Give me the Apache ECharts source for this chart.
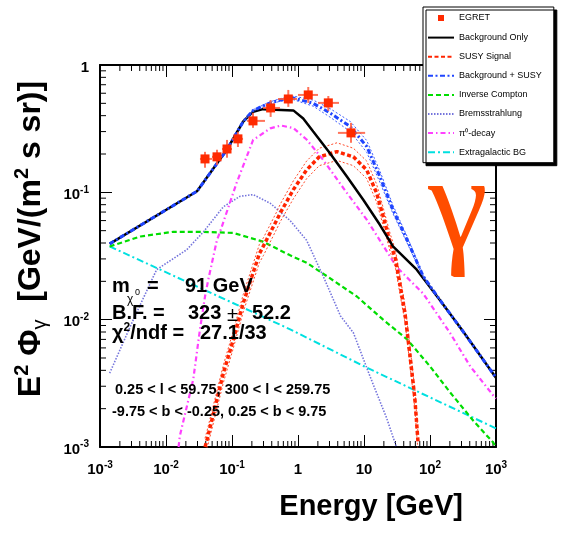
<!DOCTYPE html>
<html><head><meta charset="utf-8">
<script src="https://cdn.jsdelivr.net/npm/echarts/dist/echarts.min.js"></script>
<style>html,body{margin:0;padding:0;background:#fff}#c{width:563px;height:533px}</style>
</head><body><div id="c"></div>
<script>
// ---- tick labels ----
const xTickExps = [-3, -2, -1, 0, 1, 2, 3];
const yTickExps = [-3, -2, -1, 0];

// ---- EGRET data ----
const egretE   = [0.039, 0.0593, 0.084, 0.123, 0.208, 0.385, 0.713, 1.43, 2.88, 6.35];
const egretElo = [0.0327, 0.0498, 0.0705, 0.100, 0.169, 0.295, 0.498, 1.00, 2.01, 4.03];
const egretEhi = [0.0498, 0.0705, 0.100, 0.147, 0.316, 0.533, 0.966, 2.01, 4.18, 10.4];
const egretF   = [0.183, 0.190, 0.219, 0.263, 0.364, 0.460, 0.541, 0.582, 0.504, 0.293];
const egretFlo = [0.156, 0.164, 0.187, 0.227, 0.321, 0.391, 0.469, 0.504, 0.436, 0.245];
const egretFhi = [0.208, 0.216, 0.258, 0.299, 0.421, 0.531, 0.637, 0.672, 0.571, 0.351];

// ---- Background only ----
const bgE = [0.0014, 0.0295, 0.083, 0.148, 0.209, 0.295, 0.85, 1.2, 1.7, 3.05, 5.5, 9.8, 17.4, 27.5, 63, 141, 316, 1000];
const bgF = [0.0394, 0.102, 0.215, 0.36, 0.43, 0.45, 0.44, 0.38, 0.30, 0.203, 0.133, 0.087, 0.0556, 0.0376, 0.0247, 0.0143, 0.0081, 0.0035];

// ---- Background + SUSY ----
const bsE = [0.0014, 0.0295, 0.083, 0.148, 0.209, 0.363, 0.54, 0.85, 1.7, 3.05, 6.2, 11, 17.4, 27.5, 45, 79, 141, 316, 1000];
const bsF = [0.0394, 0.102, 0.215, 0.36, 0.44, 0.50, 0.53, 0.55, 0.50, 0.42, 0.328, 0.229, 0.133, 0.073, 0.0424, 0.0219, 0.0143, 0.0081, 0.0035];
const bsBandE = [0.148, 0.209, 0.363, 0.54, 0.85, 1.7, 3.05, 6.2, 11, 17.4, 27.5, 45, 79, 141];
const bsUpF   = [0.36, 0.445, 0.51, 0.545, 0.57, 0.53, 0.455, 0.36, 0.255, 0.147, 0.079, 0.045, 0.0222, 0.0143];
const bsLoF   = [0.36, 0.435, 0.49, 0.52, 0.534, 0.475, 0.39, 0.30, 0.206, 0.12, 0.068, 0.040, 0.0216, 0.0143];

// ---- SUSY signal ----
const susyE  = [0.039, 0.042, 0.074, 0.105, 0.148, 0.26, 0.30, 0.48, 0.54, 0.85, 1.35, 2.1, 3.9, 6.9, 11, 15.5, 19.5, 25, 30, 35, 42, 50, 59, 66];
const susyF  = [0.001, 0.00115, 0.0038, 0.007, 0.0135, 0.033, 0.038, 0.061, 0.069, 0.105, 0.15, 0.19, 0.209, 0.19, 0.15, 0.099, 0.065, 0.040, 0.030, 0.019, 0.011, 0.0051, 0.0024, 0.00107];
const susyUpF = [0.00117, 0.00135, 0.0044, 0.0082, 0.0158, 0.039, 0.044, 0.071, 0.081, 0.123, 0.176, 0.222, 0.245, 0.222, 0.176, 0.116, 0.076, 0.047, 0.035, 0.022, 0.0129, 0.006, 0.0028, 0.00125];
const susyLoF = [0.00085, 0.00098, 0.0032, 0.006, 0.0115, 0.028, 0.032, 0.052, 0.059, 0.089, 0.128, 0.162, 0.178, 0.162, 0.128, 0.084, 0.055, 0.034, 0.0255, 0.016, 0.0094, 0.0043, 0.002, 0.0009];

// ---- Inverse Compton ----
const icE = [0.0014, 0.0041, 0.0129, 0.033, 0.105, 0.295, 0.76, 1.35, 2.4, 7.8, 19.5, 45, 100, 200, 457, 912, 1000];
const icF = [0.0376, 0.045, 0.049, 0.049, 0.048, 0.041, 0.032, 0.028, 0.023, 0.0152, 0.010, 0.007, 0.0043, 0.0027, 0.0016, 0.00108, 0.001];

// ---- Bremsstrahlung ----
const brE = [0.0014, 0.0032, 0.0072, 0.0206, 0.037, 0.074, 0.132, 0.209, 0.38, 0.76, 1.35, 2.4, 4.4, 6.9, 12.3, 21.9, 31];
const brF = [0.0038, 0.010, 0.0247, 0.0354, 0.049, 0.077, 0.093, 0.096, 0.082, 0.060, 0.042, 0.022, 0.0107, 0.0079, 0.0036, 0.0017, 0.001];

// ---- pi0 decay ----
const pi0E = [0.0155, 0.0162, 0.0259, 0.0327, 0.039, 0.0437, 0.059, 0.066, 0.117, 0.209, 0.38, 0.55, 0.85, 1.35, 2.4, 5.5, 11, 17.4, 31, 79, 200, 407, 930, 1000];
const pi0F = [0.001, 0.00122, 0.0034, 0.0084, 0.0152, 0.0206, 0.042, 0.049, 0.118, 0.258, 0.318, 0.335, 0.32, 0.26, 0.18, 0.099, 0.061, 0.042, 0.026, 0.016, 0.0079, 0.0043, 0.0025, 0.0024];

// ---- Extragalactic BG ----
const exE = [0.0014, 0.76, 11, 1000];
const exF = [0.0376, 0.0084, 0.0042, 0.0014];

const zip = (a, b) => a.map((v, i) => [v, b[i]]);
const FONT = '"Liberation Sans", Helvetica, Arial, sans-serif';

// minor tick positions (2..9 in each decade)
const minorX = [], minorY = [];
for (let d = -3; d < 3; d++) for (let m = 2; m <= 9; m++) minorX.push(m * Math.pow(10, d));
for (let d = -3; d < 0; d++) for (let m = 2; m <= 9; m++) minorY.push(m * Math.pow(10, d));

function powLabel(v) {
  const e = Math.round(Math.log10(v));
  if (e === 0) return '{b|1}';
  if (e === 1) return '{b|10}';
  return '{b|10}{s|' + e + '}';
}
const labelRich = {
  b: { fontSize: 15, fontWeight: 'bold', fontFamily: FONT, color: '#000', lineHeight: 15, padding: [5, 0, 0, 0] },
  s: { fontSize: 10, fontWeight: 'bold', fontFamily: FONT, color: '#000', lineHeight: 10, verticalAlign: 'top' }
};

function lineSeries(name, data, color, width, type, z) {
  return {
    name, type: 'line', data, symbol: 'none', showSymbol: false, smooth: false, z: z || 2,
    lineStyle: { color, width, type }, itemStyle: { color }, clip: true, animation: false
  };
}

const chart = echarts.init(document.getElementById('c'), null, { renderer: 'canvas' });
const axisCommon = {
  type: 'log', logBase: 10, splitLine: { show: false },
  axisLine: { show: true, lineStyle: { color: '#000', width: 2 } },
  axisTick: { show: true, inside: true, length: 12, lineStyle: { color: '#000', width: 1 } },
  minorTick: { show: false }
};

const option = {
  animation: false,
  backgroundColor: '#fff',
  grid: { left: 100, right: 67, top: 65, bottom: 86, containLabel: false },
  xAxis: [
    Object.assign({}, axisCommon, { min: 0.001, max: 1000, position: 'bottom', splitNumber: 6,
      axisLabel: { show: true, margin: 13, formatter: powLabel, rich: labelRich } }),
    Object.assign({}, axisCommon, { min: 0.001, max: 1000, position: 'top', splitNumber: 6,
      axisLabel: { show: false } })
  ],
  yAxis: [
    Object.assign({}, axisCommon, { min: 0.001, max: 1, position: 'left', splitNumber: 3,
      axisLabel: { show: true, margin: 11, formatter: powLabel, rich: labelRich } }),
    Object.assign({}, axisCommon, { min: 0.001, max: 1, position: 'right', splitNumber: 3,
      axisLabel: { show: false } })
  ],
  legend: {
    orient: 'vertical', left: 423, top: 7,
    itemWidth: 26, itemHeight: 10, itemGap: 10.1,
    padding: [6, 12, 6, 4],
    backgroundColor: '#fff', borderColor: '#000', borderWidth: 1,
    shadowColor: '#000', shadowOffsetX: 3, shadowOffsetY: 3, shadowBlur: 0,
    textStyle: { fontSize: 9, fontFamily: FONT, color: '#000' },
    itemTextGap: 8,
    itemStyle: { opacity: 0 },
    data: [
      { name: 'EGRET', icon: 'path://M0,0M26,10M10,2h6v6h-6z', itemStyle: { opacity: 1, color: '#ff2a00' } },
      'Background Only', 'SUSY Signal', 'Background + SUSY',
      'Inverse Compton', 'Bremsstrahlung', 'π⁰-decay', 'Extragalactic BG'
    ]
  },
  series: [
    lineSeries('Extragalactic BG', zip(exE, exF), '#00e0e0', 2, [7, 3, 2, 3], 2),
    lineSeries('Inverse Compton', zip(icE, icF), '#00dd00', 2.2, [5, 3], 2),
    lineSeries('Bremsstrahlung', zip(brE, brF), '#7474dc', 1.6, [1.5, 1.5], 2),
    lineSeries('π⁰-decay', zip(pi0E, pi0F), '#ff40ff', 2.2, [5, 3, 1.5, 3], 2),
    lineSeries('susyUp', zip(susyE, susyUpF), '#ff4a2a', 1, [2, 2], 3),
    lineSeries('susyLo', zip(susyE, susyLoF), '#ff4a2a', 1, [2, 2], 3),
    lineSeries('SUSY Signal', zip(susyE, susyF), '#ff2400', 3.5, [4, 2.5], 3),
    lineSeries('Background Only', zip(bgE, bgF), '#000000', 2.5, 'solid', 4),
    lineSeries('bsUp', zip(bsBandE, bsUpF), '#3c5cff', 1, [2, 2], 4),
    lineSeries('bsLo', zip(bsBandE, bsLoF), '#3c5cff', 1, [2, 2], 4),
    lineSeries('Background + SUSY', zip(bsE, bsF), '#1f45ff', 3, [5, 2.5, 2, 2.5], 5),
    {
      name: 'EGRET', type: 'custom', z: 6, animation: false,
      itemStyle: { color: '#ff2a00' },
      data: egretE.map((e, i) => [e, egretF[i], egretElo[i], egretEhi[i], egretFlo[i], egretFhi[i]]),
      encode: { x: 0, y: 1 },
      renderItem: function (params, api) {
        const E = api.value(0), F = api.value(1);
        const c = api.coord([E, F]);
        const l = api.coord([api.value(2), F]);
        const r = api.coord([api.value(3), F]);
        const b = api.coord([E, api.value(4)]);
        const t = api.coord([E, api.value(5)]);
        const es = { stroke: '#ff5a3c', lineWidth: 2, opacity: 0.85 };
        return { type: 'group', children: [
          { type: 'line', shape: { x1: l[0], y1: c[1], x2: r[0], y2: c[1] }, style: es },
          { type: 'line', shape: { x1: c[0], y1: t[1], x2: c[0], y2: b[1] }, style: es },
          { type: 'rect', shape: { x: c[0] - 4.5, y: c[1] - 4.5, width: 9, height: 9 }, style: { fill: '#ff2a00' } }
        ] };
      }
    },
    {
      name: 'minorX', type: 'custom', z: 1, silent: true, animation: false,
      data: minorX.map(v => [v, 0.001]), encode: { x: 0, y: 1 },
      renderItem: function (params, api) {
        const p0 = api.coord([api.value(0), 0.001]);
        const p1 = api.coord([api.value(0), 1]);
        const st = { stroke: '#000', lineWidth: 1 };
        return { type: 'group', children: [
          { type: 'line', shape: { x1: p0[0], y1: p0[1], x2: p0[0], y2: p0[1] - 6 }, style: st },
          { type: 'line', shape: { x1: p1[0], y1: p1[1], x2: p1[0], y2: p1[1] + 6 }, style: st }
        ] };
      }
    },
    {
      name: 'minorY', type: 'custom', z: 1, silent: true, animation: false,
      data: minorY.map(v => [0.001, v]), encode: { x: 0, y: 1 },
      renderItem: function (params, api) {
        const p0 = api.coord([0.001, api.value(1)]);
        const p1 = api.coord([1000, api.value(1)]);
        const st = { stroke: '#000', lineWidth: 1 };
        return { type: 'group', children: [
          { type: 'line', shape: { x1: p0[0], y1: p0[1], x2: p0[0] + 6, y2: p0[1] }, style: st },
          { type: 'line', shape: { x1: p1[0], y1: p1[1], x2: p1[0] - 6, y2: p1[1] }, style: st }
        ] };
      }
    }
  ],
  graphic: [
    { type: 'text', z: 100, x: 463, y: 507, style: { text: 'Energy [GeV]', align: 'right', verticalAlign: 'middle',
      font: 'bold 29px ' + FONT, fill: '#000' } },
    { type: 'text', z: 100, x: 31, y: 239, rotation: Math.PI / 2,
      style: { text: '{b|E}{sup|2}{b| Φ}{sub|γ}{b|  [GeV/(m}{sup|2}{b| s sr)]}', align: 'center', verticalAlign: 'middle',
        rich: {
          b: { fontSize: 32, fontWeight: 'bold', fontFamily: FONT, fill: '#000', lineHeight: 38 },
          sup: { fontSize: 20, fontWeight: 'bold', fontFamily: FONT, fill: '#000', lineHeight: 20, verticalAlign: 'top' },
          sub: { fontSize: 20, fontFamily: FONT, fill: '#000', lineHeight: 20, verticalAlign: 'bottom' }
        } } },
    { type: 'text', z: 100, x: 458, y: 145, style: { text: 'γ', align: 'center', verticalAlign: 'top',
      font: '135px "Liberation Serif", serif', fill: '#ff4d00' } },
    // fit results
    { type: 'text', z: 100, x: 112, y: 286, style: { text: 'm', verticalAlign: 'middle', font: 'bold 20px ' + FONT, fill: '#000' } },
    { type: 'text', z: 100, x: 127, y: 300, style: { text: 'χ', verticalAlign: 'middle', font: '12px ' + FONT, fill: '#000' } },
    { type: 'text', z: 100, x: 135, y: 293, style: { text: '0', verticalAlign: 'middle', font: '9px ' + FONT, fill: '#000' } },
    { type: 'text', z: 100, x: 147, y: 286, style: { text: '=', verticalAlign: 'middle', font: 'bold 20px ' + FONT, fill: '#000' } },
    { type: 'text', z: 100, x: 185, y: 286, style: { text: '91 GeV', verticalAlign: 'middle', font: 'bold 20px ' + FONT, fill: '#000' } },
    { type: 'text', z: 100, x: 112, y: 313, style: { text: 'B.F. =', verticalAlign: 'middle', font: 'bold 20px ' + FONT, fill: '#000' } },
    { type: 'text', z: 100, x: 188, y: 313, style: { text: '323', verticalAlign: 'middle', font: 'bold 20px ' + FONT, fill: '#000' } },
    { type: 'text', z: 100, x: 227, y: 315, style: { text: '±', verticalAlign: 'middle', font: '20px ' + FONT, fill: '#000' } },
    { type: 'text', z: 100, x: 252, y: 313, style: { text: '52.2', verticalAlign: 'middle', font: 'bold 20px ' + FONT, fill: '#000' } },
    { type: 'text', z: 100, x: 112, y: 333, style: { text: '{b|χ}{s|2}{b|/ndf =}', verticalAlign: 'middle',
      rich: { b: { fontSize: 20, fontWeight: 'bold', fontFamily: FONT, fill: '#000', lineHeight: 22 },
              s: { fontSize: 12, fontWeight: 'bold', fontFamily: FONT, fill: '#000', lineHeight: 12, verticalAlign: 'top' } } } },
    { type: 'text', z: 100, x: 200, y: 333, style: { text: '27.1/33', verticalAlign: 'middle', font: 'bold 20px ' + FONT, fill: '#000' } },
    { type: 'text', z: 100, x: 115, y: 390, style: { text: '0.25 < l < 59.75, 300 < l < 259.75', verticalAlign: 'middle', font: 'bold 14.5px ' + FONT, fill: '#000' } },
    { type: 'text', z: 100, x: 112, y: 412, style: { text: '-9.75 < b < -0.25, 0.25 < b < 9.75', verticalAlign: 'middle', font: 'bold 14.5px ' + FONT, fill: '#000' } }
  ]
};
chart.setOption(option);
</script>
</body></html>
